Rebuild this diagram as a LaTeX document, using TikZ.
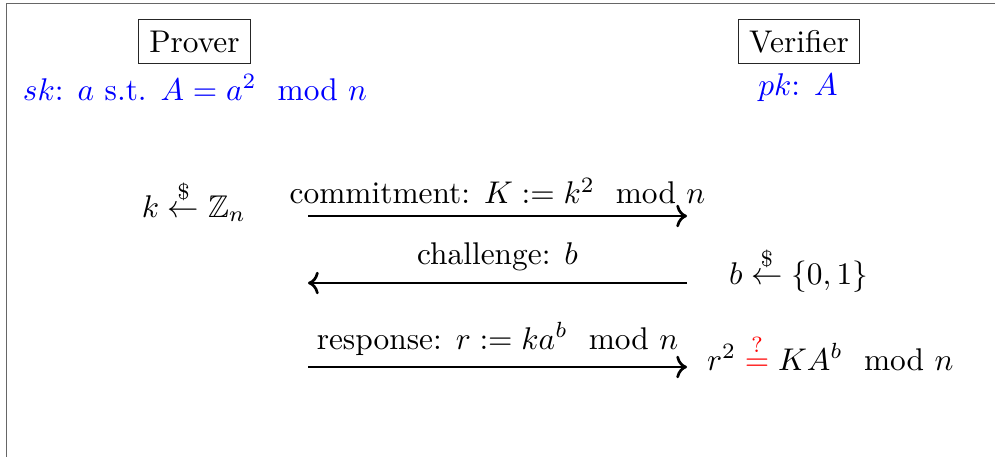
\documentclass[tikz,border=0pt]{standalone}
\usepackage{amsmath,amssymb}
\usetikzlibrary{arrows.meta}
\begin{document}
\begin{tikzpicture}[x=0.3333pt,y=-0.3333pt,
  every node/.style={scale=1.046},
  frameline/.style={draw=black!60, line width=0.65pt},
  party/.style={draw=black!85, line width=0.38pt, inner sep=3.5pt},
  secret/.style={text=blue},
  msg/.style={->, line width=0.9pt},
  stmt/.style={anchor=base}]
\useasboundingbox (0,0) rectangle (995,456);
\coordinate (fb) at (6.5,470);
\coordinate (fc) at (6.5,3.5);
\coordinate (fr) at (1010,3.5);
\draw[frameline] (fb) -- (fc) -- (fr);

\node[party] (P) at (194.5,41.5) {Prover};
\node[party] (V) at (799,41.5) {Verifier};
\node[secret, stmt] (sk) at (195,100) {$sk$: $a$ s.t. $A=a^2 \mod n$};
\node[secret, stmt] (pk) at (798,95) {$pk$: $A$};

\node[stmt] (kz) at (194,217) {$k \stackrel{\$}{\leftarrow} \mathbb{Z}_n$};
\coordinate (c1a) at (308,216);
\coordinate (c1b) at (687,216);
\draw[msg] (c1a) -- node[above] (l1) {commitment: $K := k^2 \mod n$} (c1b);

\coordinate (c2a) at (308,283);
\coordinate (c2b) at (687,283);
\draw[msg] (c2b) -- node[above] (l2) {challenge: $b$} (c2a);
\node[stmt] (bs) at (798.5,284) {$b \stackrel{\$}{\leftarrow} \{0,1\}$};

\coordinate (c3a) at (308,367);
\coordinate (c3b) at (687,367);
\draw[msg] (c3a) -- node[above] (l3) {response: $r := ka^b \mod n$} (c3b);
\node[anchor=base west] (chk) at (696,370) {$r^2 \mathrel{\textcolor{red}{\stackrel{?}{=}}} KA^b \mod n$};
\end{tikzpicture}
\end{document}
